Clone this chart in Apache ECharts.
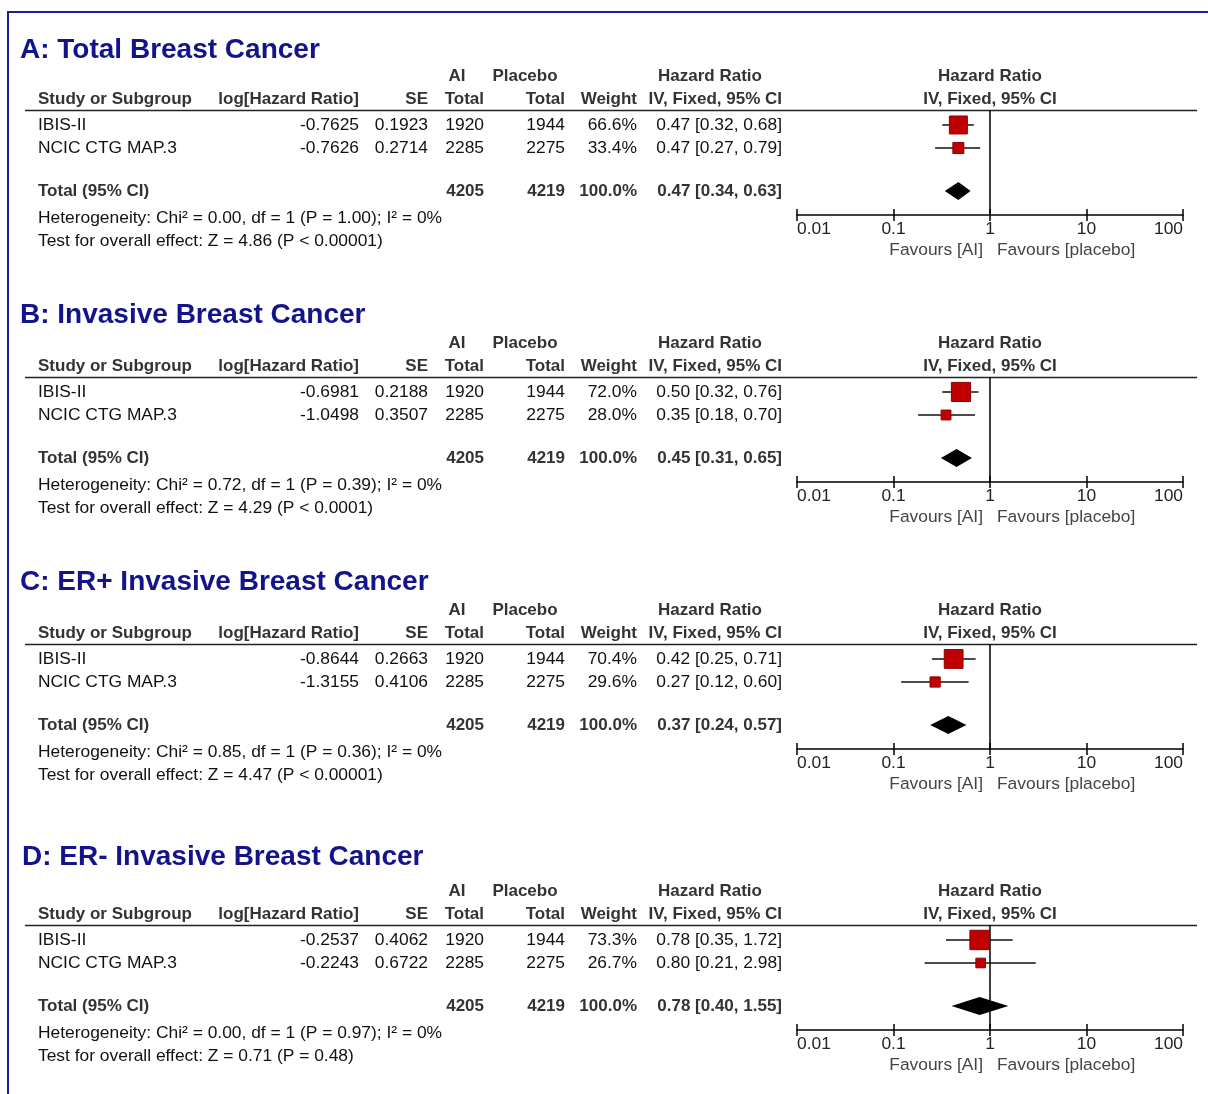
<!DOCTYPE html>
<html>
<head>
<meta charset="utf-8">
<script src="https://cdn.jsdelivr.net/npm/echarts@6/dist/echarts.min.js"></script>
<style>
html, body { margin: 0; padding: 0; background: #fff; }
#chart { width: 1208px; height: 1094px; }
</style>
</head>
<body>
<div id="chart"></div>
<script>
// --- data ---
const panelTitles = [
  "A: Total Breast Cancer",
  "B: Invasive Breast Cancer",
  "C: ER+ Invasive Breast Cancer",
  "D: ER- Invasive Breast Cancer"
];
const studyNames = ["IBIS-II", "NCIC CTG MAP.3"];
const aiTotals = [1920, 2285];
const placeboTotals = [1944, 2275];
const logHR = [[-0.7625, -0.7626], [-0.6981, -1.0498], [-0.8644, -1.3155], [-0.2537, -0.2243]];
const seVals = [[0.1923, 0.2714], [0.2188, 0.3507], [0.2663, 0.4106], [0.4062, 0.6722]];
const weights = [[66.6, 33.4], [72.0, 28.0], [70.4, 29.6], [73.3, 26.7]];
const hr = [[0.47, 0.47], [0.50, 0.35], [0.42, 0.27], [0.78, 0.80]];
const ciLow = [[0.32, 0.27], [0.32, 0.18], [0.25, 0.12], [0.35, 0.21]];
const ciHigh = [[0.68, 0.79], [0.76, 0.70], [0.71, 0.60], [1.72, 2.98]];
const totalHR = [0.47, 0.45, 0.37, 0.78];
const totalLow = [0.34, 0.31, 0.24, 0.40];
const totalHigh = [0.63, 0.65, 0.57, 1.55];
const chiSq = ["0.00", "0.72", "0.85", "0.00"];
const pHet = ["1.00", "0.39", "0.36", "0.97"];
const zVals = ["4.86", "4.29", "4.47", "0.71"];
const pEffect = ["P < 0.00001", "P < 0.0001", "P < 0.00001", "P = 0.48"];
const tickLabels = ["0.01", "0.1", "1", "10", "100"];

// layout
const panelOff = [0, 267, 534, 815];
const titleY = [50, 315, 582, 857];
const titleX = [20, 20, 20, 22];
const FONT = "'Liberation Sans', Arial, sans-serif";
const totalRow = studyNames.length + 0.87;

const chart = echarts.init(document.getElementById("chart"));

function txt(x, y, text, o) {
  o = o || {};
  return {
    type: "text", silent: true,
    style: {
      x: x, y: y, text: text,
      font: (o.bold ? "bold " : "") + (o.size || 17.4) + "px " + FONT,
      fill: o.color || "#111",
      textAlign: o.align || "left",
      textVerticalAlign: "middle"
    }
  };
}
function hline(x1, x2, y, color, w) {
  return { type: "line", silent: true, shape: { x1: x1, y1: y, x2: x2, y2: y },
    style: { stroke: color, lineWidth: w } };
}
function ciText(a, b, c) {
  return a.toFixed(2) + " [" + b.toFixed(2) + ", " + c.toFixed(2) + "]";
}

const graphics = [];
// blue frame
graphics.push({ type: "polyline", silent: true,
  shape: { points: [[8, 1094], [8, 12], [1208, 12]] },
  style: { stroke: "#1c1ca6", lineWidth: 2, fill: null } });

const grids = [], xAxes = [], yAxes = [], series = [];
const HEAD = "#333";
const HB = { bold: true, color: HEAD, size: 17 };

panelTitles.forEach(function (title, i) {
  const o = panelOff[i];
  graphics.push(txt(titleX[i], titleY[i], title, { bold: true, size: 28, color: "#14148a" }));
  // header row 1
  graphics.push(txt(457, 76 + o, "AI", Object.assign({ align: "center" }, HB)));
  graphics.push(txt(525, 76 + o, "Placebo", Object.assign({ align: "center" }, HB)));
  graphics.push(txt(710, 76 + o, "Hazard Ratio", Object.assign({ align: "center" }, HB)));
  graphics.push(txt(990, 76 + o, "Hazard Ratio", Object.assign({ align: "center" }, HB)));
  // header row 2
  graphics.push(txt(38, 99 + o, "Study or Subgroup", HB));
  graphics.push(txt(359, 99 + o, "log[Hazard Ratio]", Object.assign({ align: "right" }, HB)));
  graphics.push(txt(428, 99 + o, "SE", Object.assign({ align: "right" }, HB)));
  graphics.push(txt(484, 99 + o, "Total", Object.assign({ align: "right" }, HB)));
  graphics.push(txt(565, 99 + o, "Total", Object.assign({ align: "right" }, HB)));
  graphics.push(txt(637, 99 + o, "Weight", Object.assign({ align: "right" }, HB)));
  graphics.push(txt(782, 99 + o, "IV, Fixed, 95% CI", Object.assign({ align: "right" }, HB)));
  graphics.push(txt(990, 99 + o, "IV, Fixed, 95% CI", Object.assign({ align: "center" }, HB)));
  graphics.push(hline(25, 1197, 110.5 + o, "#222", 1.5));

  studyNames.forEach(function (name, j) {
    const y = 125 + o + j * 23;
    graphics.push(txt(38, y, name));
    graphics.push(txt(359, y, logHR[i][j].toFixed(4), { align: "right" }));
    graphics.push(txt(428, y, seVals[i][j].toFixed(4), { align: "right" }));
    graphics.push(txt(484, y, String(aiTotals[j]), { align: "right" }));
    graphics.push(txt(565, y, String(placeboTotals[j]), { align: "right" }));
    graphics.push(txt(637, y, weights[i][j].toFixed(1) + "%", { align: "right" }));
    graphics.push(txt(782, y, ciText(hr[i][j], ciLow[i][j], ciHigh[i][j]), { align: "right" }));
  });
  const ty = 191 + o;
  const aiSum = aiTotals.reduce(function (a, b) { return a + b; }, 0);
  const plSum = placeboTotals.reduce(function (a, b) { return a + b; }, 0);
  graphics.push(txt(38, ty, "Total (95% CI)", HB));
  graphics.push(txt(484, ty, String(aiSum), Object.assign({ align: "right" }, HB)));
  graphics.push(txt(565, ty, String(plSum), Object.assign({ align: "right" }, HB)));
  graphics.push(txt(637, ty, "100.0%", Object.assign({ align: "right" }, HB)));
  graphics.push(txt(782, ty, ciText(totalHR[i], totalLow[i], totalHigh[i]), Object.assign({ align: "right" }, HB)));
  graphics.push(txt(38, 218 + o, "Heterogeneity: Chi\u00b2 = " + chiSq[i] + ", df = 1 (P = " + pHet[i] + "); I\u00b2 = 0%"));
  graphics.push(txt(38, 241 + o, "Test for overall effect: Z = " + zVals[i] + " (" + pEffect[i] + ")"));
  graphics.push(txt(983, 250 + o, "Favours [AI]", { color: "#444", align: "right" }));
  graphics.push(txt(997, 250 + o, "Favours [placebo]", { color: "#444" }));

  // plot area
  grids.push({ left: 797, width: 386, top: 110 + o, height: 105, outerBoundsMode: "none" });
  const xBase = {
    type: "log", logBase: 10, min: 0.01, max: 100, gridIndex: i, position: "bottom",
    splitLine: { show: false }, minorTick: { show: false }
  };
  xAxes.push(Object.assign({}, xBase, {
    axisLine: { show: true, onZero: false, lineStyle: { color: "#000", width: 1.5 } },
    axisTick: { show: true, inside: true, length: 6, lineStyle: { color: "#000", width: 1.5 } },
    axisLabel: {
      show: true, margin: 6, color: "#222", fontSize: 17.4, fontFamily: FONT,
      alignMinLabel: "left", alignMaxLabel: "right",
      formatter: function (v) {
        const k = Math.round(Math.log10(v)) + 2;
        return tickLabels[k] || "";
      }
    }
  }));
  xAxes.push(Object.assign({}, xBase, {
    axisLine: { show: false, onZero: false },
    axisTick: { show: true, inside: false, length: 6, lineStyle: { color: "#000", width: 1.5 } },
    axisLabel: { show: false }
  }));
  yAxes.push({ type: "value", gridIndex: i, inverse: true, min: -0.65, max: 3.91, show: false });

  series.push({
    type: "custom", xAxisIndex: 2 * i, yAxisIndex: i, z: 5, silent: true,
    data: studyNames.map(function (_, j) {
      return [hr[i][j], j, ciLow[i][j], ciHigh[i][j], weights[i][j]];
    }),
    renderItem: function (params, api) {
      const y = api.value(1);
      const c = api.coord([api.value(0), y]);
      const l = api.coord([api.value(2), y]);
      const h = api.coord([api.value(3), y]);
      const s = 4 + api.value(4) * 0.21;
      return { type: "group", children: [
        { type: "line", shape: { x1: l[0], y1: c[1], x2: h[0], y2: c[1] }, style: { stroke: "#111", lineWidth: 1.5 } },
        { type: "rect", shape: { x: c[0] - s / 2, y: c[1] - s / 2, width: s, height: s },
          style: { fill: "#c00000", stroke: "#900000", lineWidth: 1 } }
      ] };
    },
    markLine: {
      silent: true, symbol: "none", label: { show: false }, animation: false,
      lineStyle: { color: "#000", width: 1.5, type: "solid" },
      data: [{ xAxis: 1 }]
    }
  });
  series.push({
    type: "custom", xAxisIndex: 2 * i, yAxisIndex: i, z: 6, silent: true,
    data: [[totalHR[i], totalRow, totalLow[i], totalHigh[i]]],
    renderItem: function (params, api) {
      const y = api.value(1);
      const c = api.coord([api.value(0), y]);
      const l = api.coord([api.value(2), y]);
      const h = api.coord([api.value(3), y]);
      return { type: "polygon",
        shape: { points: [[l[0], c[1]], [c[0], c[1] - 9], [h[0], c[1]], [c[0], c[1] + 9]] },
        style: { fill: "#000" } };
    }
  });
});

chart.setOption({
  animation: false,
  backgroundColor: "#fff",
  grid: grids,
  xAxis: xAxes,
  yAxis: yAxes,
  series: series,
  graphic: graphics
});
</script>
</body>
</html>
